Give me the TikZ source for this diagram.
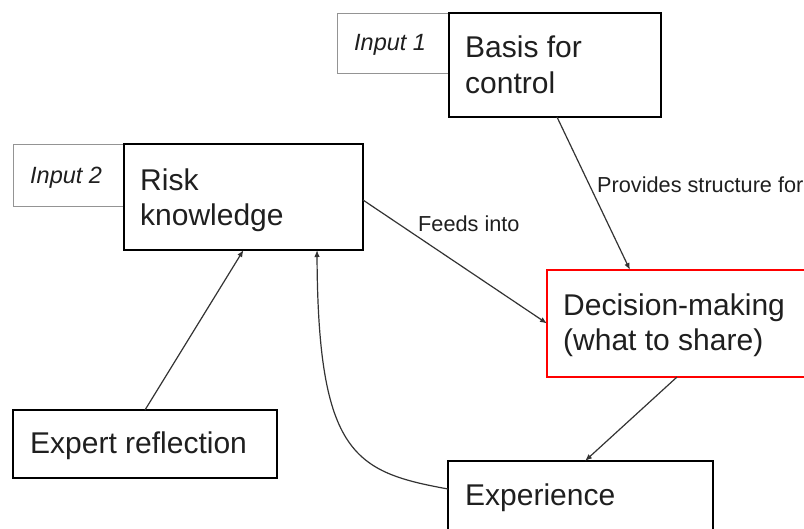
\documentclass[tikz,border=0pt]{standalone}
\usepackage{fontspec}
\setmainfont{Liberation Sans}
\usetikzlibrary{arrows.meta,calc}

\begin{document}
\begin{tikzpicture}[x=1pt,y=-1pt,
  box/.style={draw=black, line width=2.4pt, fill=white, rectangle,
    anchor=north west, outer sep=0pt, inner sep=0pt},
  inbox/.style={draw=black!42, line width=1pt, fill=white, rectangle,
    anchor=north west, outer sep=0pt, inner sep=0pt},
  redbox/.style={box, draw=red, line width=2pt},
  maintext/.style={anchor=base west, inner sep=0pt, text=black!88,
    font=\fontsize{30}{36}\selectfont},
  intext/.style={anchor=base west, inner sep=0pt, text=black!88,
    font=\fontsize{23.5}{28}\selectfont\itshape},
  edgetext/.style={anchor=base west, inner sep=0pt, text=black!88,
    font=\fontsize{21.7}{26}\selectfont},
  arr/.style={draw=black!80, line width=1.2pt,
    -{Latex[length=7pt,width=5.5pt]}}]

\useasboundingbox (0,0) rectangle (804,528);
\clip (0,0) rectangle (804,528);
\fill[white] (0,0) rectangle (804,528);

% input tags, drawn first so the main boxes sit on top of them
\node[inbox, minimum width=112pt, minimum height=60pt] (in1) at (337,13) {};
\node[inbox, minimum width=111pt, minimum height=62pt] (in2) at (13,144) {};
\node[intext] (in1t) at (354,50) {Input 1};
\node[intext] (in2t) at (30,183) {Input 2};

% main boxes
\node[box, minimum width=212pt, minimum height=104pt] (basis) at (449,13) {};
\node[box, minimum width=239pt, minimum height=106pt] (risk) at (124,144) {};
\node[redbox, minimum width=300pt, minimum height=107pt] (dec) at (547,270) {};
\node[box, minimum width=264pt, minimum height=68pt] (expert) at (13,410) {};
\node[box, minimum width=265pt, minimum height=90pt] (exp) at (448,461) {};

% box texts
\node[maintext] (basis1) at (465,57) {Basis for};
\node[maintext] (basis2) at (465,93) {control};
\node[maintext] (risk1) at (140,190) {Risk};
\node[maintext] (risk2) at (140,225) {knowledge};
\node[maintext] (dec1) at (563,315) {Decision-making};
\node[maintext] (dec2) at (563,350) {(what to share)};
\node[maintext] (expert1) at (30,453) {Expert reflection};
\node[maintext] (exp1) at (465,505) {Experience};

% connectors
\draw[arr] ([xshift=2pt]basis.south) -- ($(dec.north west)+(83,0)$);
\draw[arr] ([yshift=-3pt]risk.east) -- (dec.west);
\draw[arr] ($(dec.south west)+(130,0)$) -- ($(exp.north west)+(137,0)$);
\draw[arr] (expert.north) -- (risk.south);
\draw[arr] ([yshift=-28pt]exp.north west)
  .. controls (355,472) and (318,455) .. ($(risk.south east)+(-46,0)$);

% connector labels
\node[edgetext] (lab1) at (597,192) {Provides structure for};
\node[edgetext] (lab2) at (418,231) {Feeds into};

\end{tikzpicture}
\end{document}
